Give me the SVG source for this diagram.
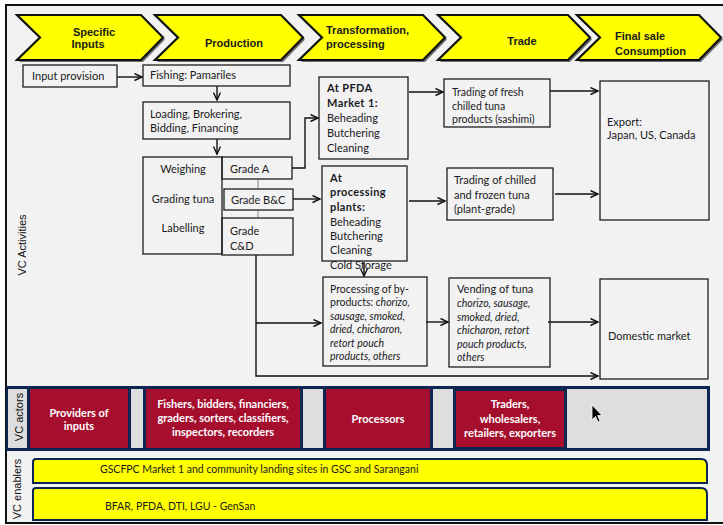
<svg xmlns="http://www.w3.org/2000/svg" width="723" height="525" viewBox="0 0 723 525">
  <defs>
    <marker id="arr" markerWidth="10" markerHeight="10" refX="8" refY="4" orient="auto" markerUnits="userSpaceOnUse">
      <path d="M0.5,0.5 L8,4 L0.5,7.5" fill="none" stroke="#111" stroke-width="1.4"/>
    </marker>
    <style>
      .stage { fill: #ffff00; stroke: #111; stroke-width: 2.2; stroke-linejoin: miter; }
      .stage-shadow { fill: #6e6e6e; }
      .stage-text { font-family: "Liberation Sans", Arial, sans-serif; font-size: 11px; font-weight: bold; fill: #1a1a1a; }
      .box { fill: none; stroke: #1e1e1e; stroke-width: 1.3; }
      .t { font-family: Lato, "Noto Sans", sans-serif; font-size: 11px; fill: #1a1a22; }
      .ts { font-family: Lato, "Noto Sans", sans-serif; font-size: 10.5px; fill: #1a1a22; }
      .ti { font-style: italic; }
      .tb { font-weight: bold; letter-spacing: 0.4px; }
      .link { fill: none; stroke: #111; stroke-width: 1.4; }
      .thin { fill: none; stroke: #888; stroke-width: 1; }
      .side { font-family: "Liberation Sans", Arial, sans-serif; font-size: 11px; fill: #111; }
      .actor { fill: #a50e2d; }
      .gapcell { fill: #dedede; }
      .actor-text { font-family: Lato, "Noto Sans", sans-serif; font-size: 11px; font-weight: bold; fill: #ffffff; text-anchor: middle; }
      .enabler { fill: #ffff00; stroke: #0c2551; stroke-width: 2; }
      .enabler-text { font-family: Lato, "Noto Sans", sans-serif; font-size: 10.5px; fill: #1a1a1a; }
    </style>
  </defs>

  <!-- page background and frame -->
  <rect x="0" y="0" width="723" height="525" fill="#ffffff"/>
  <rect x="6" y="5" width="722" height="518" fill="#f2f2f2" stroke="#111" stroke-width="2"/>

  <!-- value chain stages -->
  <g id="stages">
    <g id="stage-inputs">
      <path class="stage-shadow" d="M19,17 H143 L165,39.5 L143,62 H19 L42,39.5 Z"/>
      <path class="stage" d="M17,15 H141 L163,37.5 L141,60 H17 L40,37.5 Z"/>
      <text class="stage-text" x="94" y="36" text-anchor="middle">Specific</text>
      <text class="stage-text" x="88" y="48" text-anchor="middle">Inputs</text>
    </g>
    <g id="stage-production">
      <path class="stage-shadow" d="M157,17 H283 L305,39.5 L283,62 H157 L180,39.5 Z"/>
      <path class="stage" d="M155,15 H281 L303,37.5 L281,60 H155 L178,37.5 Z"/>
      <text class="stage-text" x="234" y="47" text-anchor="middle">Production</text>
    </g>
    <g id="stage-transformation">
      <path class="stage-shadow" d="M301,17 H425 L447,39.5 L425,62 H301 L324,39.5 Z"/>
      <path class="stage" d="M299,15 H423 L445,37.5 L423,60 H299 L322,37.5 Z"/>
      <text class="stage-text" x="326" y="34">Transformation,</text>
      <text class="stage-text" x="326" y="48">processing</text>
    </g>
    <g id="stage-trade">
      <path class="stage-shadow" d="M440,17 H570 L592,39.5 L570,62 H440 L463,39.5 Z"/>
      <path class="stage" d="M438,15 H568 L590,37.5 L568,60 H438 L461,37.5 Z"/>
      <text class="stage-text" x="522" y="45" text-anchor="middle">Trade</text>
    </g>
    <g id="stage-final">
      <path class="stage-shadow" d="M579,17 H701 L723,39.5 L701,62 H579 L602,39.5 Z"/>
      <path class="stage" d="M577,15 H699 L721,37.5 L699,60 H577 L600,37.5 Z"/>
      <text class="stage-text" x="615" y="40">Final sale</text>
      <text class="stage-text" x="615" y="55">Consumption</text>
    </g>
  </g>

  <!-- row label -->
  <text class="side" transform="translate(26,245) rotate(-90)" text-anchor="middle">VC Activities</text>

  <!-- activity connectors -->
  <g id="connectors">
    <line class="link" x1="117" y1="77" x2="142" y2="77" marker-end="url(#arr)"/>
    <line class="link" x1="217" y1="86" x2="217" y2="100" marker-end="url(#arr)"/>
    <line class="link" x1="217" y1="139" x2="217" y2="154" marker-end="url(#arr)"/>
    <polyline class="link" points="292,168 305,168 305,118 318,118" marker-end="url(#arr)"/>
    <line class="link" x1="293" y1="199" x2="320" y2="199" marker-end="url(#arr)"/>
    <line class="thin" x1="258" y1="179" x2="258" y2="189"/>
    <line class="thin" x1="258" y1="210" x2="258" y2="218"/>
    <polyline class="link" points="256,255 256,376 598,376" marker-end="url(#arr)"/>
    <line class="link" x1="256" y1="323" x2="321" y2="323" marker-end="url(#arr)"/>
    <line class="link" x1="409" y1="92" x2="443" y2="92" marker-end="url(#arr)"/>
    <line class="link" x1="550" y1="91" x2="598" y2="91" marker-end="url(#arr)"/>
    <line class="link" x1="409" y1="201" x2="445" y2="201" marker-end="url(#arr)"/>
    <line class="link" x1="555" y1="194" x2="598" y2="194" marker-end="url(#arr)"/>
    <line class="link" x1="364" y1="262" x2="364" y2="276" marker-end="url(#arr)"/>
    <line class="link" x1="426" y1="322" x2="448" y2="322" marker-end="url(#arr)"/>
    <line class="link" x1="548" y1="322" x2="598" y2="322" marker-end="url(#arr)"/>
  </g>

  <g id="input-provision">
    <rect class="box" x="23" y="65" width="94" height="22"/>
    <text class="t" x="32" y="80">Input provision</text>
  </g>

  <g id="fishing">
    <rect class="box" x="143" y="65" width="147" height="21"/>
    <text class="t" x="150" y="79">Fishing:  Pamariles</text>
  </g>

  <g id="loading">
    <rect class="box" x="143" y="102" width="147" height="37"/>
    <text class="t" x="150" y="118">Loading, Brokering,</text>
    <text class="t" x="150" y="132">Bidding, Financing</text>
  </g>

  <g id="grading">
    <rect class="box" x="143" y="157" width="79" height="97"/>
    <text class="t" x="183" y="173" text-anchor="middle">Weighing</text>
    <text class="t" x="183" y="203" text-anchor="middle">Grading tuna</text>
    <text class="t" x="183" y="232" text-anchor="middle">Labelling</text>
  </g>

  <g id="grade-a">
    <rect class="box" x="222" y="157" width="70" height="22"/>
    <text class="t" x="230" y="173">Grade A</text>
  </g>

  <g id="grade-bc">
    <rect class="box" x="224" y="189" width="69" height="21"/>
    <text class="t" x="231" y="204">Grade B&amp;C</text>
  </g>

  <g id="grade-cd">
    <rect class="box" x="222" y="218" width="71" height="37"/>
    <text class="t" x="230" y="235">Grade</text>
    <text class="t" x="230" y="250">C&amp;D</text>
  </g>

  <g id="pfda-market">
    <rect class="box" x="319" y="77" width="89" height="82"/>
    <text class="t tb" x="327" y="92">At PFDA</text>
    <text class="t tb" x="327" y="107">Market 1:</text>
    <text class="t" x="327" y="122">Beheading</text>
    <text class="t" x="327" y="137">Butchering</text>
    <text class="t" x="327" y="152">Cleaning</text>
  </g>

  <g id="processing-plants">
    <rect class="box" x="322" y="166" width="85" height="95"/>
    <text class="t tb" x="330" y="182">At</text>
    <text class="t tb" x="330" y="196">processing</text>
    <text class="t tb" x="330" y="211">plants:</text>
    <text class="t" x="330" y="226">Beheading</text>
    <text class="t" x="330" y="240">Butchering</text>
    <text class="t" x="330" y="254">Cleaning</text>
    <text class="t" x="330" y="269">Cold Storage</text>
  </g>

  <g id="trading-fresh">
    <rect class="box" x="444" y="79" width="106" height="48"/>
    <text class="ts" x="452" y="96">Trading of fresh</text>
    <text class="ts" x="452" y="110">chilled tuna</text>
    <text class="ts" x="452" y="123">products (sashimi)</text>
  </g>

  <g id="trading-frozen">
    <rect class="box" x="447" y="168" width="106" height="52"/>
    <text class="t" x="454" y="184">Trading of chilled</text>
    <text class="t" x="454" y="199">and frozen tuna</text>
    <text class="t" x="454" y="213">(plant-grade)</text>
  </g>

  <g id="export">
    <rect class="box" x="600" y="81" width="109" height="139"/>
    <text class="t" x="607" y="126">Export:</text>
    <text class="t" x="607" y="139">Japan, US, Canada</text>
  </g>

  <g id="by-products">
    <rect class="box" x="323" y="277" width="104" height="89"/>
    <text class="ts" x="330" y="293">Processing of by-</text>
    <text class="ts" x="330" y="306">products: <tspan class="ti">chorizo,</tspan></text>
    <text class="ts ti" x="330" y="320">sausage, smoked,</text>
    <text class="ts ti" x="330" y="333">dried, chicharon,</text>
    <text class="ts ti" x="330" y="347">retort pouch</text>
    <text class="ts ti" x="330" y="360">products, others</text>
  </g>

  <g id="vending">
    <rect class="box" x="449" y="278" width="101" height="89"/>
    <text class="t" x="457" y="293">Vending of tuna</text>
    <text class="ts ti" x="457" y="307">chorizo, sausage,</text>
    <text class="ts ti" x="457" y="321">smoked, dried,</text>
    <text class="ts ti" x="457" y="334">chicharon, retort</text>
    <text class="ts ti" x="457" y="348">pouch products,</text>
    <text class="ts ti" x="457" y="361">others</text>
  </g>

  <g id="domestic">
    <rect class="box" x="600" y="279" width="108" height="100"/>
    <text class="t" x="608" y="340" font-size="11.5">Domestic market</text>
  </g>

  <!-- actors band -->
  <g id="actors">
    <rect x="6" y="386" width="704" height="65" fill="#0c2551"/>
    <rect class="gapcell" x="8" y="389" width="19" height="59"/>
    <text class="side" transform="translate(23,417) rotate(-90)" text-anchor="middle">VC actors</text>
    <rect class="actor" x="30" y="389" width="98" height="59"/>
    <rect class="gapcell" x="131" y="389" width="12" height="59"/>
    <rect class="actor" x="146" y="389" width="154" height="59"/>
    <rect class="gapcell" x="303" y="389" width="20" height="59"/>
    <rect class="actor" x="326" y="389" width="104" height="59"/>
    <rect class="gapcell" x="433" y="389" width="20" height="59"/>
    <rect class="actor" x="456" y="391" width="108" height="56"/>
    <rect class="gapcell" x="567" y="389" width="140" height="59"/>
    <text class="actor-text" x="79" y="417">Providers of</text>
    <text class="actor-text" x="79" y="430">inputs</text>
    <text class="actor-text" x="223" y="408">Fishers, bidders, financiers,</text>
    <text class="actor-text" x="223" y="422">graders, sorters, classifiers,</text>
    <text class="actor-text" x="223" y="436">inspectors, recorders</text>
    <text class="actor-text" x="378" y="423">Processors</text>
    <text class="actor-text" x="510" y="408">Traders,</text>
    <text class="actor-text" x="510" y="423">wholesalers,</text>
    <text class="actor-text" x="510" y="437">retailers, exporters</text>
    <path d="M592,405 L592,420 L595.5,416.5 L598,422 L600,421 L597.6,415.6 L602,415.6 Z" fill="#000" stroke="#fff" stroke-width="0.8"/>
  </g>

  <!-- enablers -->
  <g id="enablers">
    <text class="side" transform="translate(21,489) rotate(-90)" text-anchor="middle">VC enablers</text>
    <path class="enabler" d="M33,483 V462 Q33,459 36,459 H701 Q707,459 707,465 V483 Z"/>
    <text class="enabler-text" x="100" y="473">GSCFPC Market 1 and community landing sites in GSC and Sarangani</text>
    <path class="enabler" d="M33,520 V491 Q33,488 36,488 H701 Q707,488 707,494 V520 Z"/>
    <text class="enabler-text" x="105" y="510">BFAR, PFDA, DTI, LGU - GenSan</text>
  </g>
</svg>
